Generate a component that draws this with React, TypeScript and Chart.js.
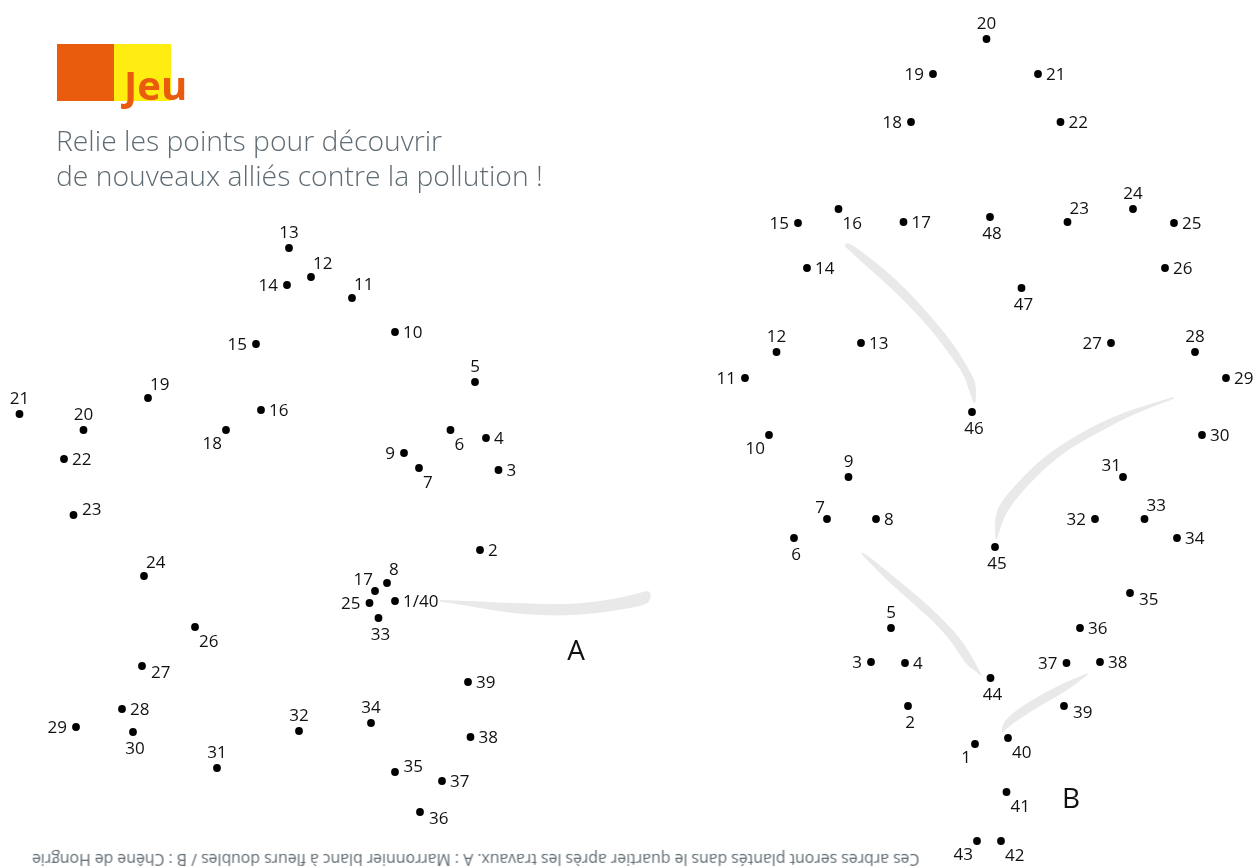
import React, { useEffect, useRef } from "react";
import { Chart, registerables } from "chart.js";

Chart.register(...registerables);

// ---- Puzzle A : Marronnier blanc ----
const treeALabels = ["1/40", "2", "3", "4", "5", "6", "7", "8", "9", "10", "11", "12", "13", "14", "15", "16", "17", "18", "19", "20", "21", "22", "23", "24", "25", "26", "27", "28", "29", "30", "31", "32", "33", "34", "35", "36", "37", "38", "39"];
const treeAX = [395, 480, 498.5, 486, 475, 450.5, 419, 387, 404, 395, 352, 311, 289, 287, 256, 261, 375, 226, 148, 83.5, 19.5, 64, 73.5, 144, 369.5, 195, 142, 122, 76, 133, 217, 299, 378.5, 371, 395, 420, 442, 470.5, 468];
const treeAY = [601, 550, 470, 438, 382, 430, 468, 583, 453, 332, 298, 277, 248, 285, 344, 410, 591, 430, 398, 430, 414, 459, 515, 576, 603, 627, 666, 709, 727, 732, 768, 731, 618, 723, 772, 812, 781, 737, 682];
const treeAPlace = ["r", "r", "r", "r", "t", "br", "br", "tr", "l", "r", "tr", "tr", "t", "l", "l", "r", "tl", "bl", "tr", "t", "t", "r", "rt", "tr", "l", "br", "rb", "r", "l", "b", "t", "t", "b", "t", "rt", "rb", "r", "r", "r"];

// ---- Puzzle B : Chêne de Hongrie ----
const treeBLabels = ["1", "2", "3", "4", "5", "6", "7", "8", "9", "10", "11", "12", "13", "14", "15", "16", "17", "18", "19", "20", "21", "22", "23", "24", "25", "26", "27", "28", "29", "30", "31", "32", "33", "34", "35", "36", "37", "38", "39", "40", "41", "42", "43", "44", "45", "46", "47", "48"];
const treeBX = [975, 908, 871, 905, 891, 794, 827, 876, 848.5, 769, 745, 776.5, 861, 807, 798, 838.5, 903.5, 911, 933, 986.5, 1038, 1060.5, 1067.5, 1133, 1174, 1165, 1111, 1195, 1226, 1202, 1123, 1095, 1144.5, 1177, 1130, 1080, 1066.5, 1100, 1064, 1008, 1006.5, 1001, 977, 990.5, 995, 972, 1021.5, 990];
const treeBY = [744, 706, 662, 663, 628, 538, 519, 519, 477, 435, 378, 352, 343, 268, 223, 209, 222, 122, 74, 39, 74, 122, 222, 209, 223, 268, 343, 352, 378, 435, 477, 519, 519, 538, 593, 628, 663, 662, 706, 738, 792, 841, 841, 678, 547, 412, 288, 217];
const treeBPlace = ["bl", "b", "l", "r", "t", "b", "tl", "r", "t", "bl", "l", "t", "r", "r", "l", "br", "r", "l", "l", "t", "r", "r", "tr", "t", "r", "r", "l", "t", "r", "r", "tl", "l", "tr", "r", "rb", "r", "l", "r", "rb", "br", "br", "br", "bl", "b", "b", "b", "b", "b"];

// ---- Tree names ----
const treeNames = ["A", "B"];
const treeNameX = [576, 1071];
const treeNameY = [650, 798];

// ---- Decorative grey swooshes (outlines, in chart units) ----
const swooshA = [[440, 600], [470, 601], [497, 602.3], [530, 603.5], [563, 604.3], [590, 602.5], [613, 599], [632, 595], [648, 590.5], [651, 593], [650, 600], [646.7, 604.3], [630, 608], [613, 611], [590, 614], [563, 615.7], [530, 615], [496.7, 611], [463, 605], [440, 601.5]];
const swooshB1 = [[846, 243], [851, 243.5], [874, 261], [896.7, 280], [918, 302], [936.7, 323.3], [952, 342], [963.3, 360], [972, 375], [976, 384], [976, 403], [973.5, 403.5], [969, 390], [963.3, 373.3], [950, 355], [936.7, 336.7], [918, 315], [896.7, 293.3], [880, 278], [863.3, 263.3], [845, 246.5]];
const swooshB2 = [[1173.3, 397], [1140, 407], [1113.3, 416.7], [1088, 429], [1063.3, 443.3], [1040, 460], [1020, 480], [1004, 498], [995, 513.3], [995, 540], [997, 540], [1002, 522], [1010, 506.7], [1027, 486], [1046.7, 466.7], [1070, 448], [1096.7, 433.3], [1118, 422], [1140, 411.7], [1173.5, 399]];
const swooshB3 = [[861.5, 552.5], [864, 552.5], [887, 571], [910, 590], [930, 607], [946.7, 623.3], [960, 638], [970, 653.3], [976, 664], [982, 675.5], [981, 676], [974, 670], [966.7, 665], [958, 652], [950, 640], [935, 623], [916.7, 606.7], [900, 592], [883.3, 576.7], [870, 563], [861.5, 554]];
const swooshB4 = [[1087.5, 673.3], [1068, 681], [1050, 690], [1032, 700], [1016.7, 710], [1007, 718], [1001.7, 726.7], [1001.7, 732.7], [1003, 732.5], [1012, 724], [1023.3, 716.7], [1040, 706], [1056.7, 696.7], [1072, 687], [1087.5, 675]];
const swooshes = [swooshA, swooshB1, swooshB2, swooshB3, swooshB4];

const W = 1253;
const H = 867;
const LABEL_FONT = '17px "Open Sans", "Noto Sans", sans-serif';

function drawLabel(ctx: CanvasRenderingContext2D, text: string, px: number, py: number, code: string) {
  let x = px;
  let cy = py;
  let align: CanvasTextAlign = "center";
  switch (code) {
    case "r": x = px + 8; align = "left"; break;
    case "l": x = px - 9; align = "right"; break;
    case "t": cy = py - 16.5; break;
    case "b": x = px + 2; cy = py + 16; break;
    case "tr": x = px + 2; cy = py - 14.5; align = "left"; break;
    case "tl": x = px - 2; cy = py - 12.5; align = "right"; break;
    case "br": x = px + 4; cy = py + 14; align = "left"; break;
    case "bl": x = px - 4; cy = py + 12.5; align = "right"; break;
    case "rt": x = px + 8.5; cy = py - 6; align = "left"; break;
    case "rb": x = px + 9; cy = py + 6; align = "left"; break;
  }
  ctx.textAlign = align;
  ctx.textBaseline = "alphabetic";
  ctx.fillText(text, x, cy + 6.1);
}

const swooshPlugin = {
  id: "swooshes",
  beforeDatasetsDraw(chart: any) {
    const { ctx } = chart;
    const xs = chart.scales.x;
    const ys = chart.scales.y;
    ctx.save();
    ctx.fillStyle = "#e9e9e9";
    for (const outline of swooshes) {
      const pts = outline.map(([a, b]) => [xs.getPixelForValue(a), ys.getPixelForValue(b)]);
      ctx.beginPath();
      ctx.moveTo(pts[0][0], pts[0][1]);
      for (let i = 1; i < pts.length - 1; i++) {
        const mx = (pts[i][0] + pts[i + 1][0]) / 2;
        const my = (pts[i][1] + pts[i + 1][1]) / 2;
        ctx.quadraticCurveTo(pts[i][0], pts[i][1], mx, my);
      }
      ctx.lineTo(pts[pts.length - 1][0], pts[pts.length - 1][1]);
      ctx.closePath();
      ctx.fill();
    }
    ctx.restore();
  },
};

const labelPlugin = {
  id: "dotLabels",
  afterDatasetsDraw(chart: any) {
    const { ctx } = chart;
    ctx.save();
    ctx.fillStyle = "#111111";
    ctx.font = LABEL_FONT;
    chart.data.datasets.forEach((ds: any, di: number) => {
      const meta = chart.getDatasetMeta(di);
      meta.data.forEach((el: any, i: number) => {
        drawLabel(ctx, ds.pointLabels[i], el.x, el.y, ds.labelPlace[i]);
      });
    });
    const xs = chart.scales.x;
    const ys = chart.scales.y;
    ctx.font = '28px "Open Sans", "Noto Sans", sans-serif';
    ctx.textAlign = "center";
    ctx.textBaseline = "alphabetic";
    treeNames.forEach((n, i) => {
      ctx.fillText(n, xs.getPixelForValue(treeNameX[i]), ys.getPixelForValue(treeNameY[i]) + 10);
    });
    ctx.restore();
  },
};

export default function App() {
  const canvasRef = useRef<HTMLCanvasElement | null>(null);

  useEffect(() => {
    if (!canvasRef.current) return;
    const chart = new Chart(canvasRef.current, {
      type: "scatter",
      data: {
        datasets: [
          {
            label: "A",
            data: treeAX.map((x, i) => ({ x, y: treeAY[i] })),
            pointLabels: treeALabels,
            labelPlace: treeAPlace,
            backgroundColor: "#000",
            borderWidth: 0,
            pointRadius: 3.9,
            clip: false,
          } as any,
          {
            label: "B",
            data: treeBX.map((x, i) => ({ x, y: treeBY[i] })),
            pointLabels: treeBLabels,
            labelPlace: treeBPlace,
            backgroundColor: "#000",
            borderWidth: 0,
            pointRadius: 3.9,
            clip: false,
          } as any,
        ],
      },
      options: {
        responsive: false,
        animation: false,
        layout: { padding: 0, autoPadding: false },
        scales: {
          x: { type: "linear", min: 0, max: W, display: false },
          y: { type: "linear", min: 0, max: H, reverse: true, display: false },
        },
        plugins: {
          legend: { display: false },
          tooltip: { enabled: false },
        },
        events: [],
      },
      plugins: [swooshPlugin, labelPlugin],
    });
    return () => chart.destroy();
  }, []);

  const grey = "#5f6b73";
  return (
    <div style={{ position: "fixed", left: 0, top: 0, width: W, height: H, background: "#fff", overflow: "hidden", fontFamily: '"Open Sans", "Noto Sans", sans-serif' }}>
      <canvas ref={canvasRef} width={W} height={H} style={{ position: "absolute", left: 0, top: 0, width: W, height: H }} />
      <div style={{ position: "absolute", left: 57, top: 44, width: 57.3, height: 56.7, background: "#e95c0e" }} />
      <div style={{ position: "absolute", left: 114.3, top: 44, width: 56.7, height: 56.7, background: "#ffec10" }} />
      <div style={{ position: "absolute", left: 124, top: 65.2, fontSize: 40, lineHeight: "40px", fontWeight: 700, color: "#e95c0e", whiteSpace: "nowrap" }}>Jeu</div>
      <div style={{ position: "absolute", left: 56, top: 123.2, fontSize: 28.3, lineHeight: "35px", fontWeight: 300, color: grey, whiteSpace: "nowrap" }}>
        Relie les points pour découvrir
        <br />
        de nouveaux alliés contre la pollution !
      </div>
      <div style={{ position: "absolute", right: W - 919, top: 848.5, fontSize: 15.8, lineHeight: "22px", color: grey, whiteSpace: "nowrap", transform: "rotate(180deg)" }}>
        Ces arbres seront plantés dans le quartier après les travaux. A : Marronnier blanc à fleurs doubles / B : Chêne de Hongrie
      </div>
    </div>
  );
}
